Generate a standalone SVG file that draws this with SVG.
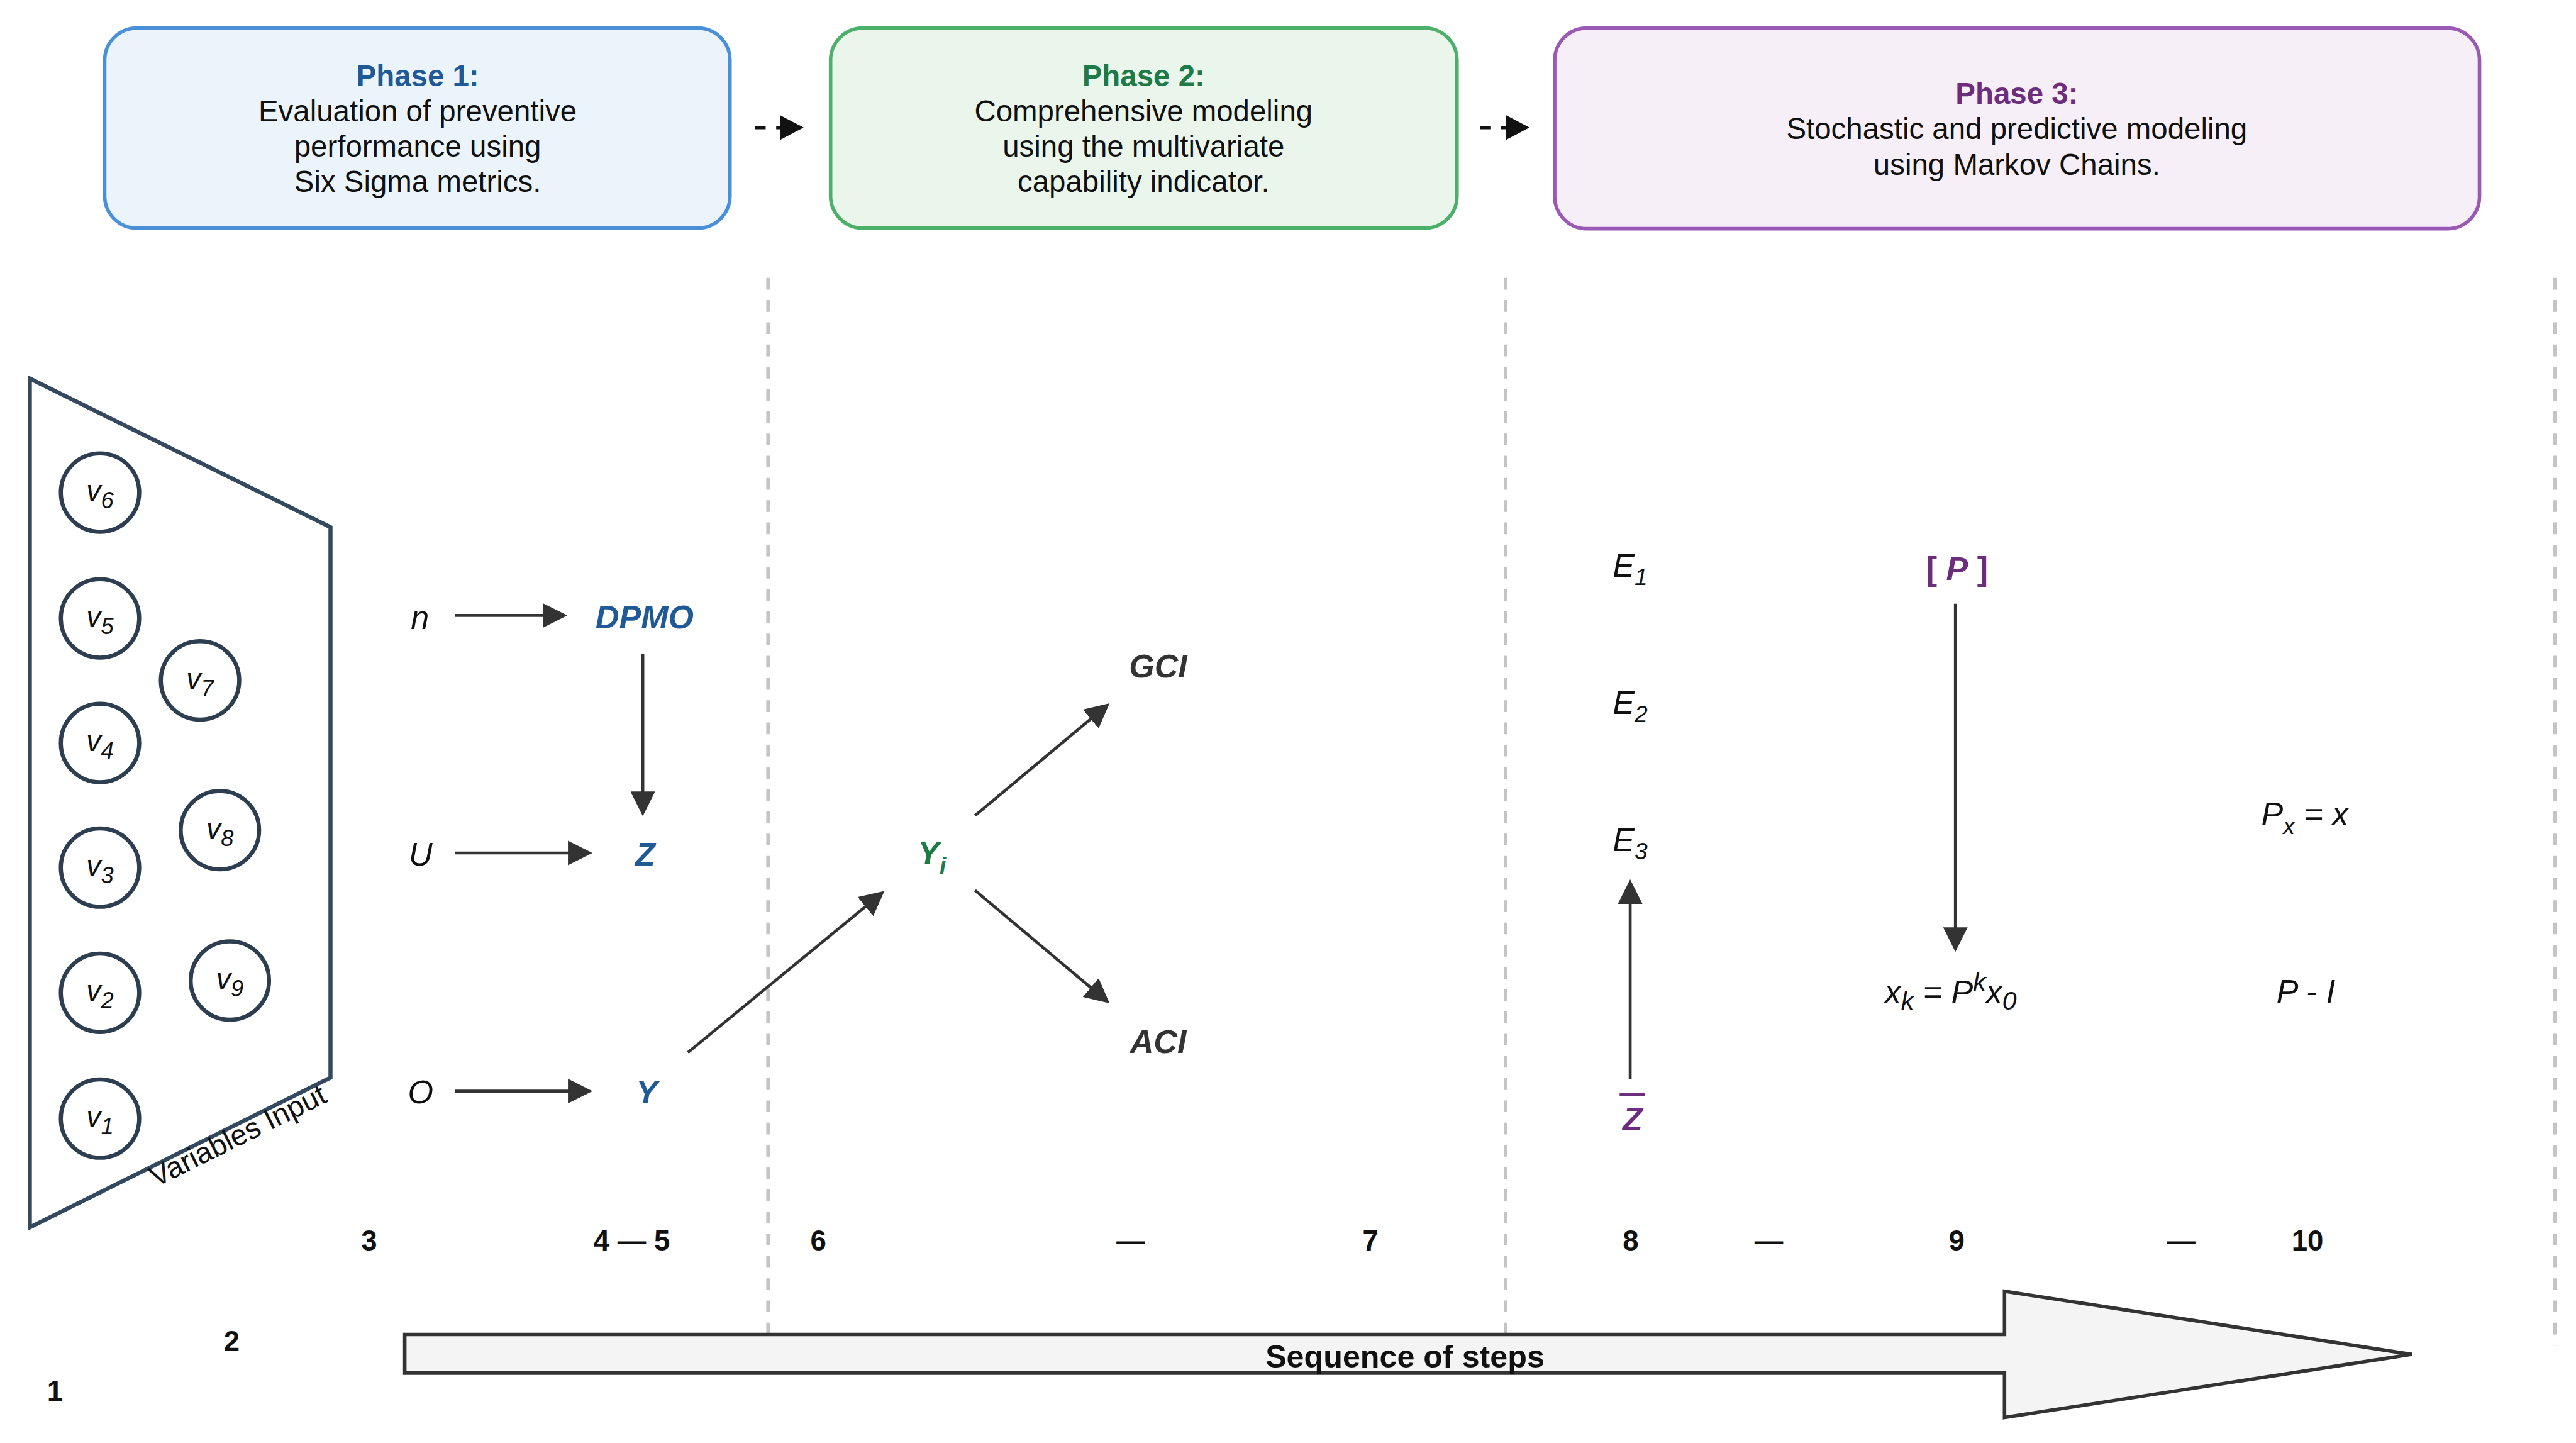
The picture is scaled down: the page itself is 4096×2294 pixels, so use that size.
<svg xmlns="http://www.w3.org/2000/svg" width="4096" height="2294" viewBox="0 0 4096 2294">
<style>
text{font-family:"Liberation Sans",Arial,Helvetica,sans-serif}
.ph{font-size:51px;fill:#111;text-anchor:middle}
.pt{font-weight:bold}
.m{font-size:56px;font-style:italic;fill:#111}
.b{font-weight:bold}
.blue{fill:#1f5a96}
.green{fill:#1e7a46}
.purple{fill:#6c2e7c}
.gray{fill:#333}
.sub{font-size:40px}
.vl{font-size:50px;font-style:italic;fill:#111;text-anchor:middle}
.vs{font-size:39px}
.step{font-size:49px;font-weight:bold;fill:#111;text-anchor:middle}
.circ{fill:none;stroke:#2c3e50;stroke-width:7}
.conn{stroke:#333;stroke-width:5;fill:none;marker-end:url(#ah)}
.pconn{stroke:#111;stroke-width:6;fill:none;stroke-dasharray:18 18;marker-end:url(#ahk)}
.sep{stroke:#c4c4c4;stroke-width:6;stroke-dasharray:20 18}
</style>
<defs>
<marker id="ah" viewBox="0 0 42 42" refX="32" refY="21" markerWidth="42" markerHeight="42" markerUnits="userSpaceOnUse" orient="auto">
<path d="M0,0 L42,21 L0,42 z" fill="#333"/>
</marker>
<marker id="ahk" viewBox="0 0 40 42" refX="30" refY="21" markerWidth="40" markerHeight="42" markerUnits="userSpaceOnUse" orient="auto">
<path d="M0,0 L40,21 L0,42 z" fill="#111"/>
</marker>
</defs>
<rect width="4096" height="2294" fill="#fff"/>
<g transform="scale(0.93006)">
<g id="separators">
<line class="sep" x1="1313" y1="475" x2="1313" y2="2280"/>
<line class="sep" x1="2574" y1="475" x2="2574" y2="2280"/>
<line class="sep" x1="4368" y1="475" x2="4368" y2="2300"/>
</g>
<g id="phase1">
<rect x="179" y="48" width="1069" height="342" rx="55" fill="#ebf3fb" stroke="#4a90d9" stroke-width="6"/>
<text class="ph pt blue" x="714" y="147">Phase 1:</text>
<text class="ph" x="714" y="207">Evaluation of preventive</text>
<text class="ph" x="714" y="268">performance using</text>
<text class="ph" x="714" y="328">Six Sigma metrics.</text>
</g>
<g id="phase2">
<rect x="1420" y="48" width="1071" height="342" rx="55" fill="#eaf5ec" stroke="#4caf6a" stroke-width="6"/>
<text class="ph pt green" x="1955" y="147">Phase 2:</text>
<text class="ph" x="1955" y="207">Comprehensive modeling</text>
<text class="ph" x="1955" y="268">using the multivariate</text>
<text class="ph" x="1955" y="328">capability indicator.</text>
</g>
<g id="phase3">
<rect x="2658" y="48" width="1581" height="343" rx="55" fill="#f6eff7" stroke="#9b59b6" stroke-width="6"/>
<text class="ph pt purple" x="3448" y="177">Phase 3:</text>
<text class="ph" x="3448" y="238">Stochastic and predictive modeling</text>
<text class="ph" x="3448" y="299">using Markov Chains.</text>
</g>
<g id="variables-input">
<polygon points="51,647 565,901 565,1842 51,2098" fill="none" stroke="#34495e" stroke-width="7" stroke-linejoin="miter"/>
<text transform="translate(398,1924) rotate(-26.5)" y="36" font-size="50" text-anchor="middle" fill="#111">Variables Input</text>
</g>
<g id="v6"><circle class="circ" cx="171" cy="842" r="67"/><text class="vl" x="171" y="856">v<tspan class="vs" dy="13">6</tspan></text></g>
<g id="v5"><circle class="circ" cx="171" cy="1057" r="67"/><text class="vl" x="171" y="1071">v<tspan class="vs" dy="13">5</tspan></text></g>
<g id="v4"><circle class="circ" cx="171" cy="1270" r="67"/><text class="vl" x="171" y="1284">v<tspan class="vs" dy="13">4</tspan></text></g>
<g id="v3"><circle class="circ" cx="171" cy="1483" r="67"/><text class="vl" x="171" y="1497">v<tspan class="vs" dy="13">3</tspan></text></g>
<g id="v2"><circle class="circ" cx="171" cy="1697" r="67"/><text class="vl" x="171" y="1711">v<tspan class="vs" dy="13">2</tspan></text></g>
<g id="v1"><circle class="circ" cx="171" cy="1912" r="67"/><text class="vl" x="171" y="1926">v<tspan class="vs" dy="13">1</tspan></text></g>
<g id="v7"><circle class="circ" cx="342" cy="1163" r="67"/><text class="vl" x="342" y="1177">v<tspan class="vs" dy="13">7</tspan></text></g>
<g id="v8"><circle class="circ" cx="376" cy="1419" r="67"/><text class="vl" x="376" y="1433">v<tspan class="vs" dy="13">8</tspan></text></g>
<g id="v9"><circle class="circ" cx="393" cy="1676" r="67"/><text class="vl" x="393" y="1690">v<tspan class="vs" dy="13">9</tspan></text></g>
<g id="n"><text class="m" x="718" y="1075" text-anchor="middle">n</text></g>
<g id="U"><text class="m" x="719" y="1479" text-anchor="middle">U</text></g>
<g id="O"><text class="m" x="719" y="1886" text-anchor="middle">O</text></g>
<g id="DPMO"><text class="m b blue" x="1102" y="1074" text-anchor="middle">DPMO</text></g>
<g id="Z"><text class="m b blue" x="1103" y="1479" text-anchor="middle">Z</text></g>
<g id="Y"><text class="m b blue" x="1106" y="1886" text-anchor="middle">Y</text></g>
<g id="Yi"><text class="m b green" x="1569" y="1477">Y<tspan class="sub" dy="16">i</tspan></text></g>
<g id="GCI"><text class="m b gray" x="1980" y="1158" text-anchor="middle">GCI</text></g>
<g id="ACI"><text class="m b gray" x="1980" y="1800" text-anchor="middle">ACI</text></g>
<g id="E1"><text class="m" x="2757" y="986">E<tspan class="sub" dy="14">1</tspan></text></g>
<g id="E2"><text class="m" x="2757" y="1220">E<tspan class="sub" dy="14">2</tspan></text></g>
<g id="E3"><text class="m" x="2757" y="1455">E<tspan class="sub" dy="14">3</tspan></text></g>
<g id="Zbar"><line x1="2769" y1="1871" x2="2812" y2="1871" stroke="#6c2e7c" stroke-width="6"/><text class="m b purple" x="2791" y="1932" text-anchor="middle" font-size="62">Z</text></g>
<g id="P"><text class="m b purple" x="3346" y="991" text-anchor="middle"><tspan font-style="normal">[ </tspan><tspan font-style="italic">P</tspan><tspan font-style="normal"> ]</tspan></text></g>
<g id="xk"><text class="m" x="3222" y="1715">x<tspan font-size="44" dy="11">k</tspan><tspan dy="-11"> = P</tspan><tspan font-size="44" dy="-22">k</tspan><tspan dy="22">x</tspan><tspan font-size="44" dy="11">0</tspan></text></g>
<g id="Px"><text class="m" x="3866" y="1411">P<tspan class="sub" dy="15">x</tspan><tspan dy="-15"> = x</tspan></text></g>
<g id="PI"><text class="m" x="3892" y="1714">P - I</text></g>
<g id="connectors">
<line class="pconn" x1="1291" y1="218" x2="1364" y2="218"/>
<line class="pconn" x1="2530" y1="218" x2="2605" y2="218"/>
<line class="conn" x1="778" y1="1052" x2="960" y2="1052"/>
<line class="conn" x1="1099" y1="1117" x2="1099" y2="1385"/>
<line class="conn" x1="778" y1="1458" x2="1003" y2="1458"/>
<line class="conn" x1="778" y1="1865" x2="1003" y2="1865"/>
<line class="conn" x1="1176" y1="1799" x2="1504.3" y2="1529.3"/>
<line class="conn" x1="1667" y1="1394" x2="1889.3" y2="1208.4"/>
<line class="conn" x1="1667" y1="1522" x2="1889.3" y2="1708.6"/>
<line class="conn" x1="2787" y1="1844" x2="2787" y2="1513"/>
<line class="conn" x1="3343" y1="1032" x2="3343" y2="1617"/>
</g>
<g id="steps">
<text class="step" x="94" y="2395">1</text>
<text class="step" x="396" y="2310">2</text>
<text class="step" x="631" y="2138">3</text>
<text class="step" x="1080" y="2138">4 — 5</text>
<text class="step" x="1399" y="2138">6</text>
<text class="step" x="1933" y="2138">—</text>
<text class="step" x="2343" y="2138">7</text>
<text class="step" x="2788" y="2138">8</text>
<text class="step" x="3024" y="2138">—</text>
<text class="step" x="3345" y="2138">9</text>
<text class="step" x="3729" y="2138">—</text>
<text class="step" x="3945" y="2138">10</text>
</g>
<g id="sequence-arrow">
<polygon points="692,2281 3427,2281 3427,2207 4123,2315 3427,2423 3427,2347 692,2347" fill="#f4f4f4" stroke="#333" stroke-width="6" stroke-linejoin="miter"/>
<text x="2402" y="2337" font-size="54" font-weight="bold" text-anchor="middle" fill="#111">Sequence of steps</text>
</g>
</g>
</svg>
